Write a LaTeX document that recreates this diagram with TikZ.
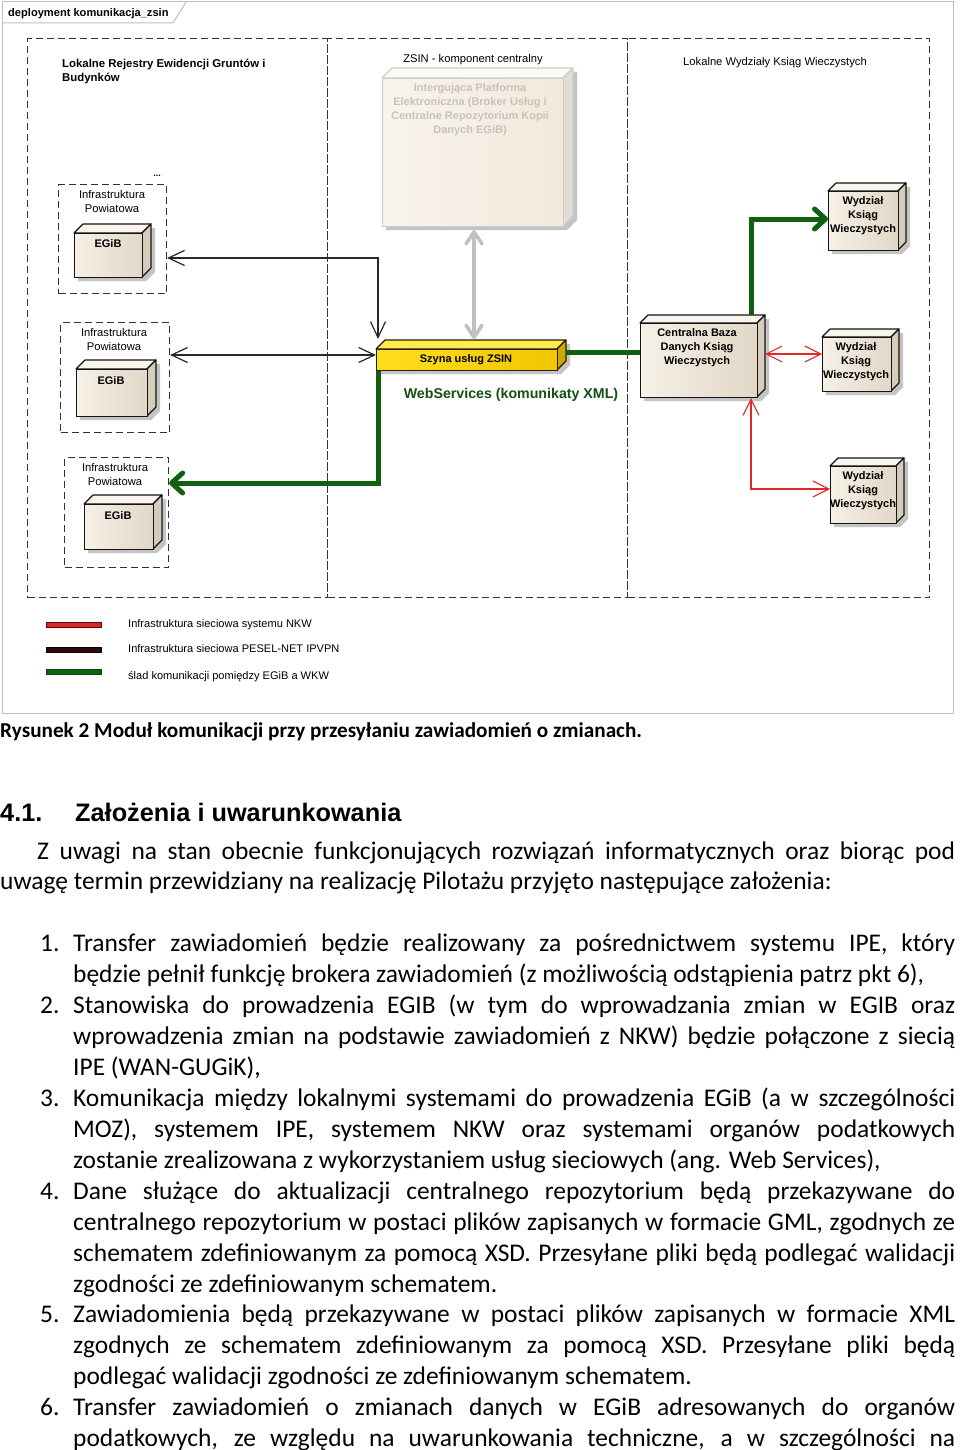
\documentclass[tikz,border=0pt]{standalone}
\usepackage{fontspec}
\setmainfont{Carlito}
\newfontfamily\arial{Liberation Sans}
\usetikzlibrary{arrows.meta}
\definecolor{framec}{RGB}{190,190,190}
\definecolor{dashc}{RGB}{50,50,50}
\definecolor{beigeL}{RGB}{246,240,230}
\definecolor{beigeR}{RGB}{226,215,199}
\definecolor{beigeT}{RGB}{249,245,238}
\definecolor{beigeS}{RGB}{214,204,188}
\definecolor{beigeO}{RGB}{20,20,20}
\definecolor{shadowc}{RGB}{196,196,196}
\definecolor{paleL}{RGB}{248,243,236}
\definecolor{paleR}{RGB}{243,233,219}
\definecolor{paleT}{RGB}{252,250,247}
\definecolor{paleS}{RGB}{226,220,212}
\definecolor{paleO}{RGB}{205,205,205}
\definecolor{paleTxt}{RGB}{198,194,190}
\definecolor{yelL}{RGB}{255,222,30}
\definecolor{yelR}{RGB}{240,198,0}
\definecolor{yelT}{RGB}{255,234,80}
\definecolor{yelS}{RGB}{205,168,0}
\definecolor{yelO}{RGB}{40,30,0}
\definecolor{grn}{RGB}{16,96,16}
\definecolor{redc}{RGB}{228,40,40}
\definecolor{linec}{RGB}{40,40,40}
\definecolor{grayarr}{RGB}{192,192,192}
\definecolor{darkbar}{RGB}{45,12,12}
\definecolor{txtgrn}{RGB}{20,80,20}
% cube: name, x1, y1, x2, y2, depth, colour kind
\newcommand\cubebox[7]{%
  \fill[shadowc] ({#2+4},{#3+4}) -- ({#2+#6+4},{#3-#6+4}) -- ({#4+#6+4},{#3-#6+4}) -- ({#4+#6+4},{#5-#6+4}) -- ({#4+4},{#5+4}) -- ({#2+4},{#5+4}) -- cycle;
  \filldraw[draw=#7O, fill=#7T, line width=1.1pt, line join=round] (#2,#3) -- ({#2+#6},{#3-#6}) -- ({#4+#6},{#3-#6}) -- (#4,#3) -- cycle;
  \filldraw[draw=#7O, fill=#7S, line width=1.1pt, line join=round] (#4,#3) -- ({#4+#6},{#3-#6}) -- ({#4+#6},{#5-#6}) -- (#4,#5) -- cycle;
  \node[draw=#7O, left color=#7L, right color=#7R, line width=1.1pt, inner sep=0pt, minimum width={#4-#2}, minimum height={#5-#3}, anchor=north west] (#1) at (#2,#3) {};
  \coordinate (#1-tl) at ({#2+#6},{#3-#6});
  \coordinate (#1-tr) at ({#4+#6},{#3-#6});
}
\begin{document}
\begin{tikzpicture}[x=1pt,y=-1pt,
  lbl/.style={font=\arial\fontsize{11.2}{14}\selectfont, inner sep=0pt, align=center, yshift=-2pt},
  blbl/.style={font=\arial\bfseries\fontsize{11}{14}\selectfont, inner sep=0pt, align=center, yshift=-2pt},
  lane/.style={draw=dashc, dash pattern=on 7pt off 4pt, line width=1.2pt, inner sep=0pt, anchor=north west},
  dbox/.style={draw=dashc, dash pattern=on 7pt off 4pt, line width=1.1pt, inner sep=0pt, anchor=north west},
  blk/.style={draw=linec, line width=1.2pt},
  grnl/.style={draw=grn, line width=5pt},
  redl/.style={draw=redc, line width=1.1pt},
  grayl/.style={draw=grayarr, line width=3.5pt},
  bothblk/.style={arrows={Straight Barb[length=16pt,width=15pt]-Straight Barb[length=16pt,width=15pt]}},
  endgrn/.style={arrows={-Straight Barb[length=11pt,width=20pt,round]}},
  bothgray/.style={arrows={Straight Barb[length=12pt,width=16pt,round]-Straight Barb[length=12pt,width=16pt,round]}},
  bothred/.style={arrows={Straight Barb[length=16pt,width=16pt]-Straight Barb[length=16pt,width=16pt]}},
  body/.style={font=\fontsize{25.45}{30}\selectfont, inner sep=0pt, anchor=mid west, yshift=-6pt},
  legbar/.style={minimum width=55, minimum height=5, inner sep=0pt, anchor=west, line width=0.7pt},
  legtxt/.style={font=\arial\fontsize{11.05}{14}\selectfont, inner sep=0pt, anchor=west, yshift=-2pt}
]
\useasboundingbox (0,0) rectangle (960,1450);
\fill[white] (0,0) rectangle (960,1450);

% frame and tab
\draw[framec, line width=1pt] (2,2) rectangle (953,713);
\draw[framec, line width=1pt] (2,23) -- (173,23) -- (186,2);
\node[font=\arial\bfseries\fontsize{11.1}{12}\selectfont, inner sep=0pt, anchor=west, yshift=-1pt] (tab) at (8,12.5) {deployment komunikacja\_zsin};

% swimlanes
\node[lane, minimum width=300, minimum height=559] (lane1) at (27,38) {};
\node[lane, minimum width=300, minimum height=559] (lane2) at (327,38) {};
\node[lane, minimum width=302, minimum height=559] (lane3) at (627,38) {};
\node[blbl, font=\arial\bfseries\fontsize{11.4}{14}\selectfont, align=left, anchor=north west] (lane1t) at (62,57) {Lokalne Rejestry Ewidencji Gruntów i\\Budynków};
\node[lbl] (lane2t) at (473,58) {ZSIN - komponent centralny};
\node[lbl] (lane3t) at (775,61) {Lokalne Wydziały Ksiąg Wieczystych};

% county boxes
\node[dbox, minimum width=108, minimum height=109] (boxA) at (58,184) {};
\node[lbl, anchor=north] (boxAt) at (112,188) {Infrastruktura\\Powiatowa};
\node[font=\arial\bfseries\fontsize{9}{9}\selectfont, inner sep=0pt] (dots) at (157,176) {...};
\cubebox{egibA}{74}{233}{142}{277}{9}{beige}
\node[blbl] (egibAt) at (108,242) {EGiB};

\node[dbox, minimum width=109, minimum height=110] (boxB) at (60,322) {};
\node[lbl, anchor=north] (boxBt) at (114,326) {Infrastruktura\\Powiatowa};
\cubebox{egibB}{76}{369}{147}{416}{9}{beige}
\node[blbl] (egibBt) at (111,379) {EGiB};

\node[dbox, minimum width=104, minimum height=110] (boxC) at (64,457) {};
\node[lbl, anchor=north] (boxCt) at (115,461) {Infrastruktura\\Powiatowa};
\cubebox{egibC}{84}{504}{153}{549}{9}{beige}
\node[blbl] (egibCt) at (118,514) {EGiB};

% central platform
\cubebox{plat}{382}{78}{563}{226}{10}{pale}
\node[blbl, text=paleTxt, anchor=north] (platt) at (470,81) {Intergująca Platforma\\Elektroniczna (Broker Usług i\\Centralne Repozytorium Kopii\\Danych EGiB)};

% service bus
\cubebox{szyna}{376}{349}{557}{370}{9}{yel}
\node[blbl] (szynat) at (466,358) {Szyna usług ZSIN};
\node[font=\arial\bfseries\fontsize{14.2}{16}\selectfont, text=txtgrn, inner sep=0pt, yshift=-2pt] (ws) at (511,393) {WebServices (komunikaty XML)};

% central land register database
\cubebox{cbkw}{640}{323}{757}{397}{8}{beige}
\node[blbl, anchor=north] (cbkwt) at (697,326) {Centralna Baza\\Danych Ksiąg\\Wieczystych};

% land register offices
\cubebox{w1}{828}{191}{898}{250}{8}{beige}
\node[blbl, anchor=north] (w1t) at (863,194) {Wydział\\Ksiąg\\Wieczystych};
\cubebox{w2}{822}{337}{891}{391}{8}{beige}
\node[blbl, anchor=north] (w2t) at (856,340) {Wydział\\Ksiąg\\Wieczystych};
\cubebox{w3}{830}{466}{896}{523}{8}{beige}
\node[blbl, anchor=north] (w3t) at (863,469) {Wydział\\Ksiąg\\Wieczystych};

% waypoints
\coordinate (k1) at (378,258);
\coordinate (k2) at (270,355);
\coordinate (k3) at (474,280);
\coordinate (k4) at (600,352);
\coordinate (k5) at (751,219);
\coordinate (k6) at (378,483);
\coordinate (k7) at (790,354);
\coordinate (k8) at (751,489);

% connectors
\draw[blk, bothblk] (k1 -| boxA.east) -- (k1) -- ([yshift=1pt]k1 |- szyna-tl);
\draw[blk, bothblk] (k2 -| boxB.east) -- (k2 -| szyna.west);
\draw[grayl, bothgray] ([yshift=-3pt]k3 |- plat.south) -- ([yshift=1pt]k3 |- szyna-tl);
\draw[grnl] (k4 -| szyna-tr) -- (k4 -| cbkw.west);
\draw[grnl, endgrn] (k5 |- cbkw-tl) -- (k5) -- (k5 -| w1.west);
\draw[grnl, endgrn] (k6 |- szyna.south) -- (k6) -- (k6 -| boxC.east);
\draw[redl, bothred] (k7 -| cbkw-tr) -- (k7 -| w2.west);
\draw[redl, bothred] (k8 |- cbkw.south) -- (k8) -- (k8 -| w3.west);

% legend
\node[legbar, draw=black!60!red, fill=redc!95!black] (bar1) at (46,625) {};
\node[legbar, draw=black, fill=darkbar] (bar2) at (46,649.5) {};
\node[legbar, draw=grn!70!black, fill=grn] (bar3) at (46,671.5) {};
\node[legtxt] (leg1) at (128,623) {Infrastruktura sieciowa systemu NKW};
\node[legtxt] (leg2) at (128,647) {Infrastruktura sieciowa PESEL-NET IPVPN};
\node[legtxt] (leg3) at (128,675) {ślad komunikacji pomiędzy EGiB a WKW};

% caption and text
\node[font=\bfseries\fontsize{21.2}{25}\selectfont, inner sep=0pt, anchor=mid west, yshift=-5pt] (cap) at (0,730) {Rysunek 2 Moduł komunikacji przy przesyłaniu zawiadomień o zmianach.};
\node[font=\arial\bfseries\fontsize{25.3}{30}\selectfont, inner sep=0pt, anchor=mid west, yshift=-6pt] (hnum) at (0,813) {4.1.};
\node[font=\arial\bfseries\fontsize{25.3}{30}\selectfont, inner sep=0pt, anchor=mid west, yshift=-6pt] (head) at (75,813) {Założenia i uwarunkowania};

\node[body] (p1) at (37,851) {\makebox[918pt][s]{Z uwagi na stan obecnie funkcjonujących rozwiązań informatycznych oraz biorąc pod}};
\node[body] (p2) at (0,881) {uwagę termin przewidziany na realizację Pilotażu przyjęto następujące założenia:};

\node[body] (n1) at (40,943) {1.};
\node[body] (i1a) at (73,943) {\makebox[882pt][s]{Transfer zawiadomień będzie realizowany za pośrednictwem systemu IPE, który}};
\node[body] (i1b) at (73,974) {będzie pełnił funkcję brokera zawiadomień (z możliwością odstąpienia patrz pkt 6),};
\node[body] (n2) at (40,1005) {2.};
\node[body] (i2a) at (73,1005) {\makebox[882pt][s]{Stanowiska do prowadzenia EGIB (w tym do wprowadzania zmian w EGIB oraz}};
\node[body] (i2b) at (73,1036) {\makebox[882pt][s]{wprowadzenia zmian na podstawie zawiadomień z NKW) będzie połączone z siecią}};
\node[body] (i2c) at (73,1067) {IPE (WAN-GUGiK),};
\node[body] (n3) at (40,1098) {3.};
\node[body] (i3a) at (73,1098) {\makebox[882pt][s]{Komunikacja między lokalnymi systemami do prowadzenia EGiB (a w szczególności}};
\node[body] (i3b) at (73,1129) {\makebox[882pt][s]{MOZ), systemem IPE, systemem NKW oraz systemami organów podatkowych}};
\node[body] (i3c) at (73,1160) {zostanie zrealizowana z wykorzystaniem usług sieciowych (ang. Web Services),};
\node[body] (n4) at (40,1191) {4.};
\node[body] (i4a) at (73,1191) {\makebox[882pt][s]{Dane służące do aktualizacji centralnego repozytorium będą przekazywane do}};
\node[body] (i4b) at (73,1222) {\makebox[882pt][s]{centralnego repozytorium w postaci plików zapisanych w formacie GML, zgodnych ze}};
\node[body] (i4c) at (73,1253) {\makebox[882pt][s]{schematem zdefiniowanym za pomocą XSD. Przesyłane pliki będą podlegać walidacji}};
\node[body] (i4d) at (73,1284) {zgodności ze zdefiniowanym schematem.};
\node[body] (n5) at (40,1314) {5.};
\node[body] (i5a) at (73,1314) {\makebox[882pt][s]{Zawiadomienia będą przekazywane w postaci plików zapisanych w formacie XML}};
\node[body] (i5b) at (73,1345) {\makebox[882pt][s]{zgodnych ze schematem zdefiniowanym za pomocą XSD. Przesyłane pliki będą}};
\node[body] (i5c) at (73,1376) {podlegać walidacji zgodności ze zdefiniowanym schematem.};
\node[body] (n6) at (40,1407) {6.};
\node[body] (i6a) at (73,1407) {\makebox[882pt][s]{Transfer zawiadomień o zmianach danych w EGiB adresowanych do organów}};
\node[body] (i6b) at (73,1438) {\makebox[882pt][s]{podatkowych, ze względu na uwarunkowania techniczne, a w szczególności na}};
\end{tikzpicture}
\end{document}
